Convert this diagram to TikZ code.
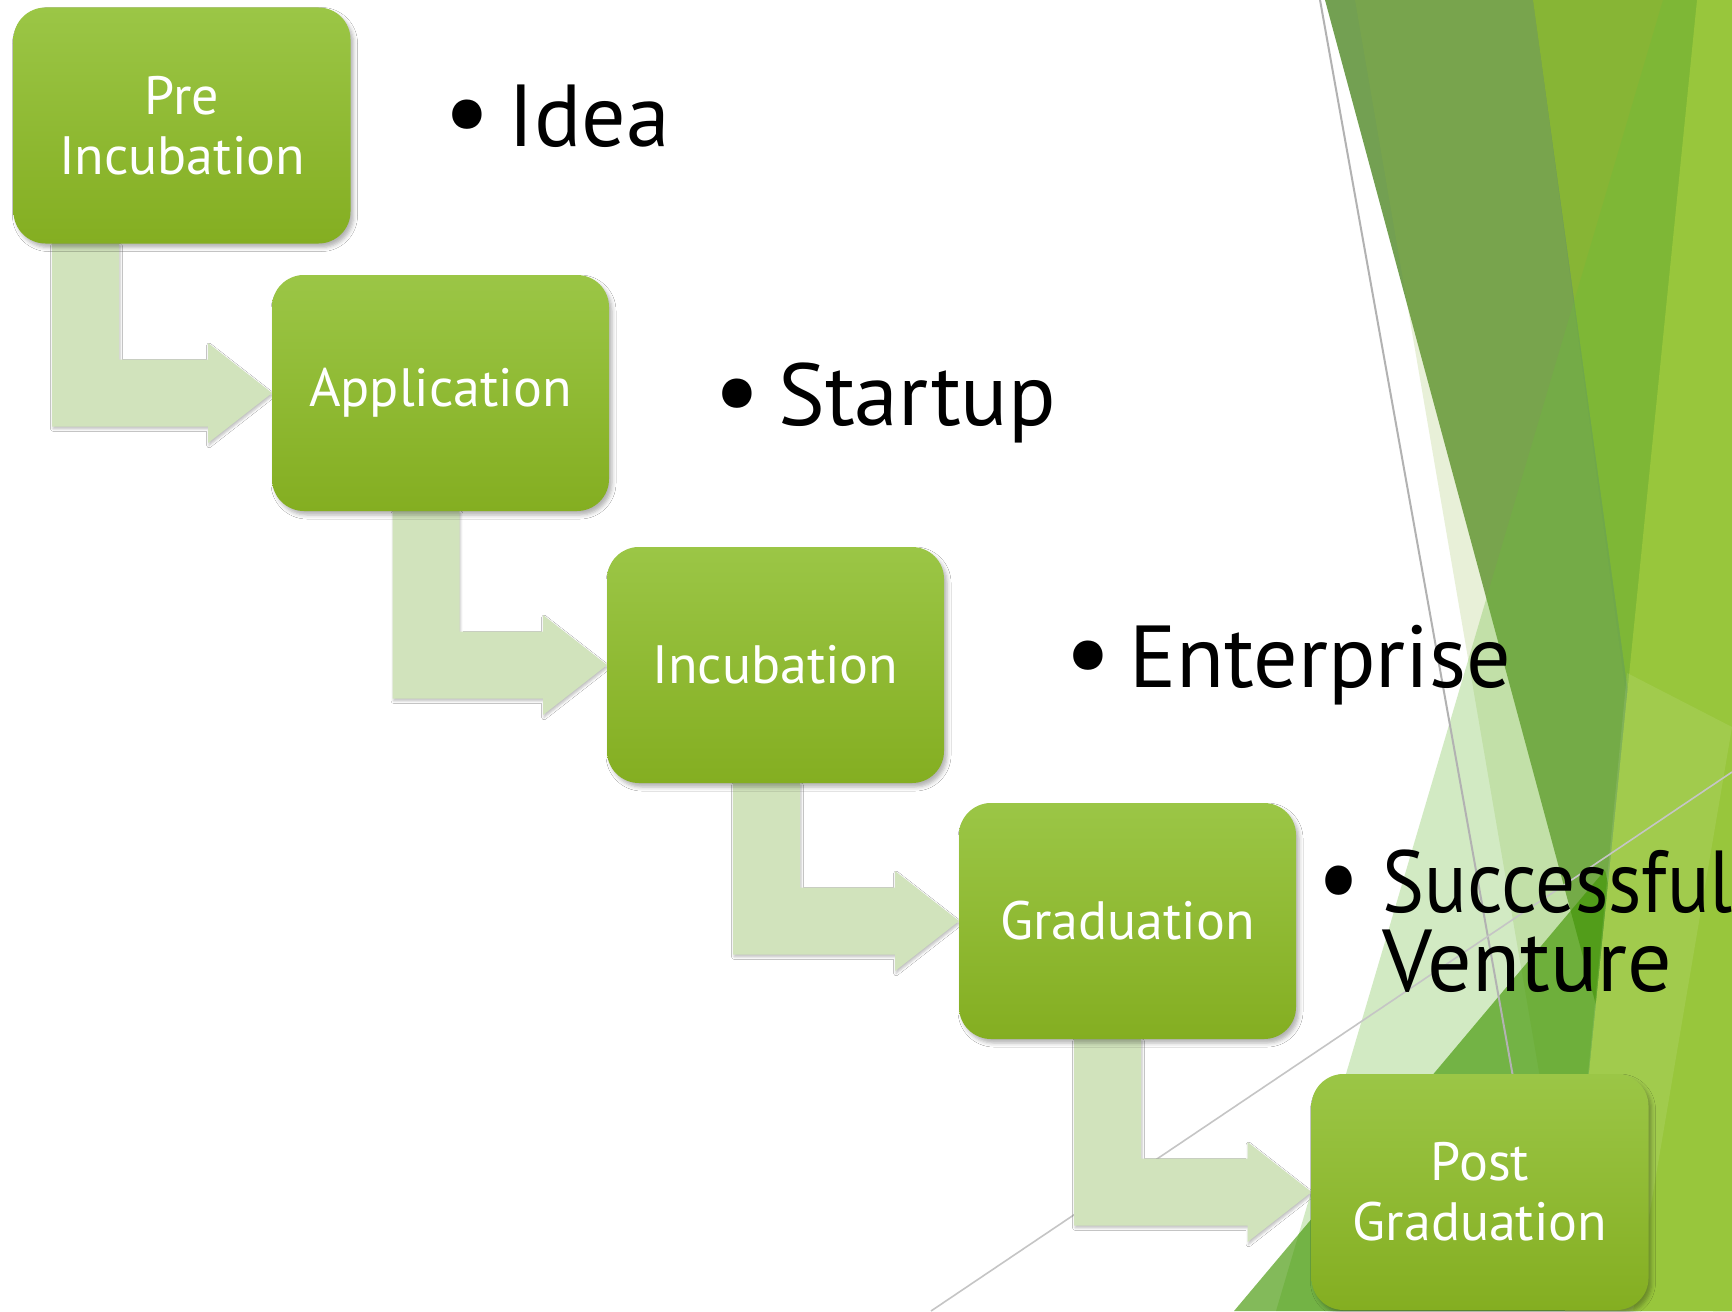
\documentclass[tikz,border=0pt]{standalone}
\usepackage{fontspec}
\usepackage{graphicx}
\setmainfont{PT Sans}
\newfontfamily\narrowfont[FakeStretch=0.9]{PT Sans}
\usetikzlibrary{calc,shadows.blur}
\definecolor{boxtop}{RGB}{155,198,70}
\definecolor{boxbot}{RGB}{132,174,33}
\definecolor{arrowfill}{RGB}{209,227,188}
\definecolor{facetA}{RGB}{115,160,82}
\definecolor{facetB}{RGB}{135,181,53}
\definecolor{facetL}{RGB}{152,198,60}
\definecolor{facetM}{RGB}{65,150,2}
\definecolor{facetP}{RGB}{140,180,60}
\definecolor{facetS}{RGB}{108,188,58}
\definecolor{lineg}{RGB}{178,178,178}
\newcommand\bul{\makebox[32.5pt][l]{\raisebox{-0.5pt}{\scalebox{1.2}{•}}}}
% #1: centre of source stage, #2: centre of target stage, #3: x of the vertical bar (px units)
\newcommand\elbow[3]{%
  \fill[elbowarrow] let \p1=($(#1)+(0,118)$), \p2=($(#2)+(-168.5,0)$) in
    ({#3*0.5pt-16.75pt},\y1) -- ({#3*0.5pt+16.75pt},\y1)
    -- ({#3*0.5pt+16.75pt},\y2+16.75pt) -- (\x2-32pt,\y2+16.75pt)
    -- (\x2-32pt,\y2+25pt) -- (\x2,\y2) -- (\x2-32pt,\y2-25pt)
    -- (\x2-32pt,\y2-16.75pt) -- ({#3*0.5pt-16.75pt},\y2-16.75pt) -- cycle;}
\begin{document}
\begin{tikzpicture}[x=0.5pt,y=-0.5pt,
  stage/.style={rounded corners=16pt, minimum width=168.5pt, minimum height=118pt,
    top color=boxtop, bottom color=boxbot, text=white,
    font=\fontsize{27}{30}\selectfont, align=center, inner sep=0pt,
    blur shadow={shadow xshift=1.5pt, shadow yshift=-2pt, shadow blur radius=2pt, shadow opacity=30}},
  bullettext/.style={anchor=base west, font=\fontsize{44}{39.5}\selectfont, inner sep=0pt, align=left, text=black},
  elbowarrow/.style={fill=arrowfill,
    blur shadow={shadow xshift=0.5pt, shadow yshift=-1.2pt, shadow blur radius=1.2pt, shadow opacity=25}},
]
\useasboundingbox (0,0) rectangle (1732,1311);
\fill[white] (0,0) rectangle (1732,1311);
% decorative facets
\begin{scope}
\clip (0,0) rectangle (1732,1311);
\fill[facetA] (1325,0) -- (1700,0) -- (1596,1005) -- cycle;
\fill[facetB] (1533,0) -- (1732,0) -- (1732,1311) -- (1713,1311) -- cycle;
\fill[facetP, opacity=0.2] (1355,0) -- (1533,0) -- (1640,800) -- (1640,1311) -- (1580,1311) -- cycle;
\fill[facetS, opacity=0.3] (1663,0) -- (1732,0) -- (1732,1311) -- (1276,1311) -- cycle;
\fill[facetM, opacity=0.65] (1234,1311) -- (1605,870) -- (1700,1311) -- cycle;
\fill[facetL] (1697,0) -- (1732,0) -- (1732,1311) -- (1565,1311) -- cycle;
\fill[white, opacity=0.09] (1627,673) -- (1732,727) -- (1633,1311) -- (1565,1311) -- cycle;
\draw[lineg, line width=1pt] (1320,0) -- (1513,1077);
\draw[lineg!75, line width=0.8pt] (931,1311) -- (1732,772);
\end{scope}
% stage centres
\coordinate (c1) at (182,125.5);
\coordinate (c2) at (440.5,393);
\coordinate (c3) at (775.5,665);
\coordinate (c4) at (1127.5,921);
\coordinate (c5) at (1480,1192);
% elbow arrows (under the stages)
\elbow{c1}{c2}{85.5}
\elbow{c2}{c3}{426}
\elbow{c3}{c4}{766.5}
\elbow{c4}{c5}{1107.5}
% stages
\node[stage] (b1) at (c1) {Pre\\Incubation};
\node[stage] (b2) at (c2) {Application};
\node[stage] (b3) at (c3) {Incubation};
\node[stage] (b4) at (c4) {Graduation};
\node[stage] (b5) at (c5) {Post\\Graduation};
% bullet texts
\node[bullettext] (t1) at (443,147) {\bul Idea};
\node[bullettext] (t2) at (713,425) {\bul Startup};
\node[bullettext] (t3) at (1064,687) {\bul Enterprise};
\node[bullettext] (t4) at (1317,991) {\narrowfont\bul Successful\\\hspace*{32.5pt}Venture};
\end{tikzpicture}
\end{document}
